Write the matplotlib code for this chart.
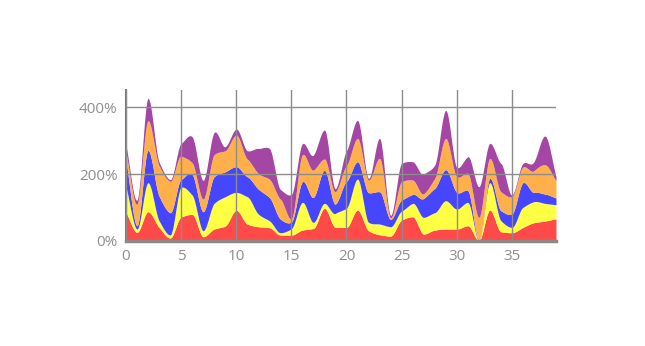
import matplotlib
matplotlib.use("Agg")
import matplotlib.pyplot as plt
from matplotlib.ticker import FuncFormatter
import numpy as np

# series values (percent), one per x position 0..39
x = np.arange(40)
red = [85, 25, 87, 40, 8, 71, 79, 12, 35, 44, 91, 50, 42, 39, 17, 17, 32, 37, 97, 40,
       40, 92, 30, 18, 14, 62, 72, 20, 32, 35, 35, 45, 0, 92, 27, 24, 40, 54, 59, 66]
yellow = [77, 10, 87, 20, 9, 89, 58, 18, 77, 88, 54, 82, 38, 21, 7, 19, 83, 18, 15, 42,
          58, 93, 25, 32, 28, 27, 40, 50, 52, 85, 60, 70, 0, 82, 33, 16, 60, 63, 53, 42]
blue = [78, 10, 97, 74, 67, 24, 62, 57, 80, 75, 77, 60, 75, 70, 41, 20, 62, 75, 99, 28,
        80, 52, 89, 97, 22, 33, 27, 57, 73, 93, 50, 35, 3, 13, 30, 40, 74, 28, 28, 20]
orange = [25, 65, 89, 91, 94, 70, 35, 38, 66, 63, 95, 53, 47, 55, 60, 10, 81, 82, 34, 37,
          48, 70, 38, 100, 5, 55, 43, 14, 30, 94, 47, 52, 67, 60, 57, 52, 47, 65, 88, 52]
purple = [22, 12, 67, 11, 5, 38, 78, 56, 67, 12, 18, 25, 75, 92, 29, 73, 33, 45, 87, 9,
          44, 54, 5, 60, 7, 55, 55, 59, 40, 84, 28, 50, 92, 45, 85, 5, 11, 27, 86, 12]

series = [red, yellow, blue, orange, purple]
colors = ["#ff4a4a", "#ffff44", "#4646ff", "#ffb04a", "#a446a4"]


def pchip(xs, ys, xnew):
    # monotone cubic interpolation (Fritsch-Carlson), keeps values >= 0
    xs = np.asarray(xs, float)
    ys = np.asarray(ys, float)
    h = np.diff(xs)
    d = np.diff(ys) / h
    m = np.zeros_like(ys)
    for i in range(1, len(ys) - 1):
        if d[i - 1] * d[i] > 0:
            w1 = 2 * h[i] + h[i - 1]
            w2 = h[i] + 2 * h[i - 1]
            m[i] = (w1 + w2) / (w1 / d[i - 1] + w2 / d[i])
    m[0] = d[0]
    m[-1] = d[-1]
    idx = np.clip(np.searchsorted(xs, xnew) - 1, 0, len(xs) - 2)
    t = (xnew - xs[idx]) / h[idx]
    h00 = 2 * t**3 - 3 * t**2 + 1
    h10 = t**3 - 2 * t**2 + t
    h01 = -2 * t**3 + 3 * t**2
    h11 = t**3 - t**2
    return (h00 * ys[idx] + h10 * h[idx] * m[idx]
            + h01 * ys[idx + 1] + h11 * h[idx] * m[idx + 1])


xs = np.linspace(0, 39, 1200)
smooth = [np.clip(pchip(x, s, xs), 0, None) for s in series]

fig = plt.figure(figsize=(6.45, 3.46), dpi=100)
ax = fig.add_axes([0.1953, 0.3043, 0.6667, 0.4355])

base = np.zeros_like(xs)
for s, c in zip(smooth, colors):
    ax.fill_between(xs, base, base + s, color=c, lw=0, zorder=1)
    base = base + s

ax.set_xlim(0, 39)
ax.set_ylim(0, 452)
ax.set_xticks(np.arange(0, 40, 5))
ax.set_yticks([0, 200, 400])
ax.yaxis.set_major_formatter(FuncFormatter(lambda v, p: "%d%%" % v))

ax.grid(True, color="#8c8c8c", lw=1, zorder=2)
ax.set_axisbelow(False)
ax.tick_params(length=0, colors="#8e8e8e", labelsize=11, pad=6)
for lab in ax.get_xticklabels() + ax.get_yticklabels():
    lab.set_family("Open Sans")

for side in ["top", "right"]:
    ax.spines[side].set_visible(False)
ax.spines["left"].set_color("#7a7a7a")
ax.spines["left"].set_linewidth(1.5)
ax.spines["bottom"].set_color("#8a8a8a")
ax.spines["bottom"].set_linewidth(2.5)

plt.savefig("out.png", dpi=100)
